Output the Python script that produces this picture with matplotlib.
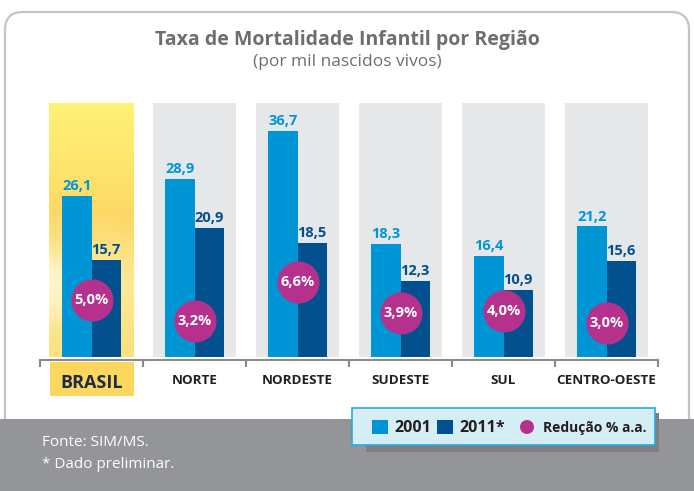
import numpy as np
import matplotlib
matplotlib.use("Agg")
import matplotlib.pyplot as plt
from matplotlib.patches import Rectangle, FancyBboxPatch, Circle
from matplotlib.colors import LinearSegmentedColormap

plt.rcParams['font.family'] = ['Open Sans', 'DejaVu Sans']

# data
regions = ["BRASIL", "NORTE", "NORDESTE", "SUDESTE", "SUL", "CENTRO-OESTE"]
rate_2001 = [26.1, 28.9, 36.7, 18.3, 16.4, 21.2]
rate_2011 = [15.7, 20.9, 18.5, 12.3, 10.9, 15.6]
reducao = [5.0, 3.2, 6.6, 3.9, 4.0, 3.0]

C01 = "#0096d6"
C11 = "#02508e"
CMAG = "#b5318c"
GRAYTXT = "#6d6e71"

W, H = 694, 491
fig = plt.figure(figsize=(W / 100, H / 100), dpi=100)

# background / decoration layer in pixel units
bg = fig.add_axes([0, 0, 1, 1], zorder=0)
bg.set_xlim(0, W); bg.set_ylim(H, 0); bg.axis("off")
bg.add_patch(FancyBboxPatch((5, 12), 684, 430, boxstyle="round,pad=0,rounding_size=18",
                            fc="white", ec="#c4c4c4", lw=1.6))
bg.add_patch(Rectangle((0, 419), W, H - 419, fc="#939598", ec="none"))
bg.text(347, 40, "Taxa de Mortalidade Infantil por Região", ha="center", va="center",
        fontsize=14, fontweight="bold", color=GRAYTXT)
bg.text(347, 62, "(por mil nascidos vivos)", ha="center", va="center",
        fontsize=12.5, color=GRAYTXT)

# BRASIL label box under axis
bg.add_patch(Rectangle((50, 362), 84, 34, fc="#fcd75e", ec="none"))

# legend
bg.add_patch(Rectangle((366, 413), 293, 39, fc="#7f7f82", ec="none"))
bg.add_patch(Rectangle((352, 408), 303, 37, fc="#d5edf4", ec="#29a9e0", lw=1.2))
bg.add_patch(Rectangle((372, 420), 16, 14, fc=C01, ec="none"))
bg.text(394, 428, "2001", ha="left", va="center", fontsize=11.5, fontweight="bold", color="#231f20")
bg.add_patch(Rectangle((437, 420), 16, 14, fc=C11, ec="none"))
bg.text(459, 428, "2011*", ha="left", va="center", fontsize=11.5, fontweight="bold", color="#231f20")
bg.add_patch(Circle((527, 427), 7, fc=CMAG, ec="none"))
bg.text(543, 428, "Redução % a.a.", ha="left", va="center", fontsize=10, fontweight="bold", color="#231f20")

bg.text(42, 442, "Fonte: SIM/MS.", ha="left", va="center", fontsize=11, color="white")
bg.text(42, 465, "* Dado preliminar.", ha="left", va="center", fontsize=11, color="white")

# main chart axes: x from 40 to 658 px, y from 357 (baseline) to 103 px
ax = fig.add_axes([40 / W, (H - 357) / H, 618 / W, 254 / H], zorder=1)
ax.patch.set_alpha(0)
ymax = 41.2
n = len(regions)
x = np.arange(n)
ax.set_xlim(-0.5, n - 0.5)
ax.set_ylim(0, ymax)

# column backgrounds
for i in range(1, n):
    ax.bar(x[i], ymax, width=0.8, color="#e6e7e9", zorder=0)
# yellow gradient for BRASIL
yy, xx = np.mgrid[0:1:200j, -1:1:60j]
grad = 0.6 + 0.4 * yy ** 1.5 - 0.4 * np.exp(-((yy - 0.3) / 0.2) ** 2) * (1 - 0.5 * (xx + 1) / 2)
cmap = LinearSegmentedColormap.from_list("yel", ["#fffbe3", "#fde68f", "#fdd865", "#fff275"])
ax.imshow(grad, extent=(-0.41, 0.41, 0, ymax), origin="lower", aspect="auto",
          cmap=cmap, vmin=0.2, vmax=1.0, zorder=0)

bw = 0.285
b1 = ax.bar(x - bw / 2, rate_2001, width=bw, color=C01, zorder=2)
b2 = ax.bar(x + bw / 2, rate_2011, width=bw, color=C11, zorder=2)
fmt = lambda v: f"{v:.1f}".replace(".", ",")
for xi, v in zip(x, rate_2001):
    ax.annotate(fmt(v), (xi - bw / 2, v), xytext=(0, 2), textcoords="offset points",
                ha="center", va="bottom", fontsize=10.5, fontweight="bold", color=C01)
for xi, v in zip(x, rate_2011):
    ax.annotate(fmt(v), (xi + bw / 2, v), xytext=(0, 2), textcoords="offset points",
                ha="center", va="bottom", fontsize=10.5, fontweight="bold", color=C11)

for s in ["top", "right", "left"]:
    ax.spines[s].set_visible(False)
ax.spines["bottom"].set_position(("outward", 2))
ax.spines["bottom"].set_color("#8a8a8a")
ax.spines["bottom"].set_linewidth(1.5)
ax.set_yticks([])
ax.set_xticks(x)
ax.set_xticklabels(regions)
ax.tick_params(axis="x", which="major", length=0, pad=10, labelsize=9.7, colors="#231f20")
for lab in ax.get_xticklabels():
    lab.set_fontweight("bold")
ax.get_xticklabels()[0].set_fontsize(13)
ax.get_xticklabels()[0].set_color("#1f2a44")
ax.set_xticks(np.arange(n + 1) - 0.5, minor=True)
ax.tick_params(axis="x", which="minor", length=5, width=1.5, color="#8a8a8a", direction="out")

# reduction circles on twin axis
ax2 = ax.twinx()
ax2.set_ylim(0, ymax / 1.85)
ax2.axis("off")
ax2.scatter(x, reducao, s=860, color=CMAG, zorder=3)
for xi, r in zip(x, reducao):
    ax2.text(xi, r, fmt(r) + "%", ha="center", va="center", fontsize=10.5,
             fontweight="bold", color="white")

fig.savefig("out.png", dpi=100)
